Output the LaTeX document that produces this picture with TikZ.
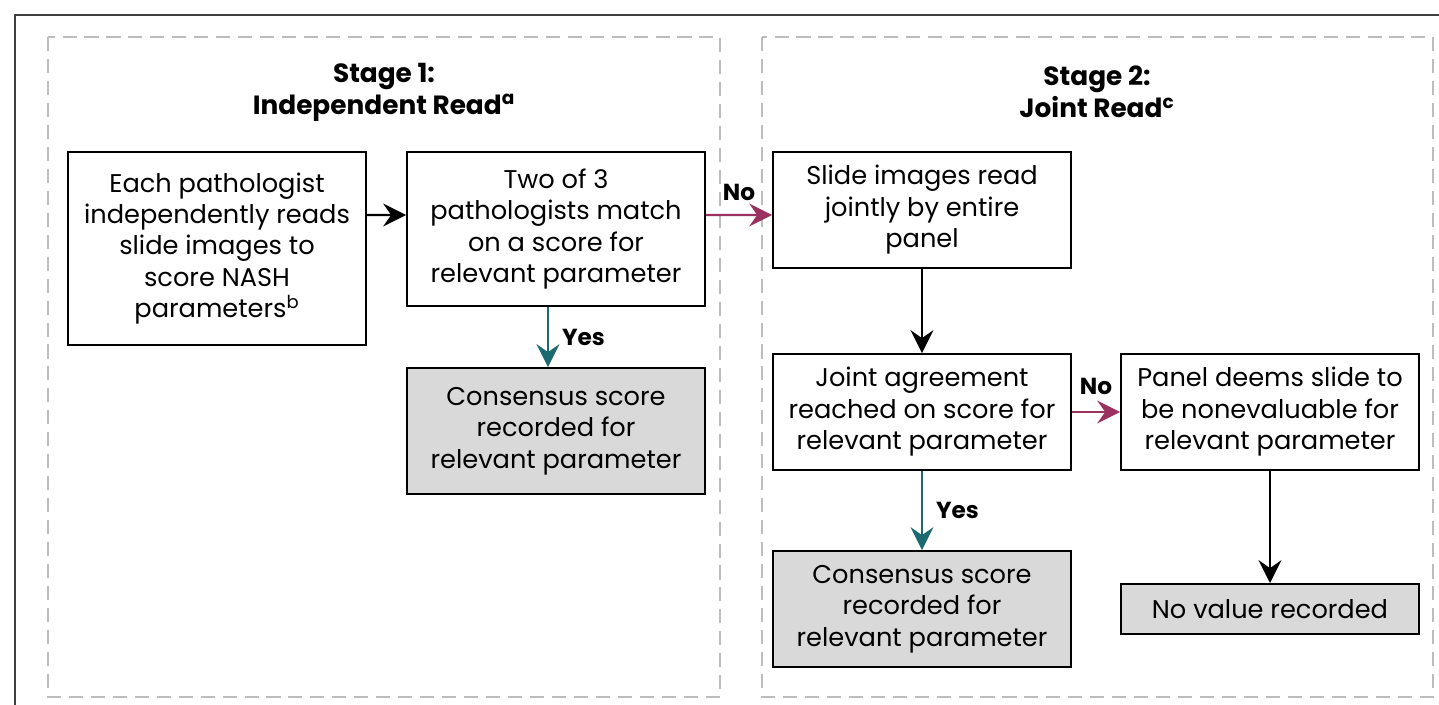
\documentclass[tikz,border=0pt]{standalone}
\usepackage{fontspec}
\setmainfont{Poppins}
\usetikzlibrary{arrows.meta,positioning,calc}
\definecolor{noline}{HTML}{9B3160}
\definecolor{yesline}{HTML}{1B6A72}
\definecolor{resultfill}{HTML}{D9D9D9}
\definecolor{stagegray}{HTML}{BDBDBD}

\tikzset{
  stepbox/.style={draw, line width=1.1pt, align=center, minimum width=5.96cm,
    inner sep=2pt, font=\fontsize{14.6}{17.9}\selectfont},
  resultbox/.style={stepbox, fill=resultfill},
  stagebox/.style={draw=stagegray, line width=1.1pt, dash pattern=on 8pt off 4.5pt},
  stagetitle/.style={align=center, font=\fontsize{15}{18.2}\selectfont\bfseries},
  flow/.style={-{Stealth[length=13pt, width=13pt, inset=4.5pt]}, line width=1.4pt},
  flowlabel/.style={font=\fontsize{13.2}{15}\selectfont\bfseries},
}

\begin{document}
\begin{tikzpicture}[x=0.02cm, y=-0.02cm]
  \useasboundingbox (0,0) rectangle (1439,705);

  % frame and stages
  \draw[line width=1pt, black!75] (15,730) -- (15,15) -- (1460,15);
  \draw[stagebox] (48,37) rectangle (720,697);
  \draw[stagebox] (762,37) rectangle (1433,697);

  \node[stagetitle] (title1) at (384,92) {Stage 1:\\ Independent Read\textsuperscript{a}};
  \node[stagetitle] (title2) at (1097,92) {Stage 2:\\ Joint Read\textsuperscript{c}};

  % Stage 1
  \node[stepbox, minimum height=3.86cm] (each) at (217,248.5)
    {Each pathologist\\ independently reads\\ slide images to\\ score NASH\\ parameters\textsuperscript{b}};
  \node[stepbox, minimum height=3.08cm] (match) at (556,229)
    {Two of 3\\ pathologists match\\ on a score for\\ relevant parameter};
  \node[resultbox, minimum height=2.52cm] (consensus1) at (556,431)
    {Consensus score\\ recorded for\\ relevant parameter};

  % Stage 2
  \node[stepbox, minimum height=2.32cm] (joint) at (922,210)
    {Slide images read\\ jointly by entire\\ panel};
  \node[stepbox, minimum height=2.32cm] (agree) at (922,412)
    {Joint agreement\\ reached on score for\\ relevant parameter};
  \node[stepbox, minimum height=2.32cm] (panel) at (1270,412)
    {Panel deems slide to\\ be nonevaluable for\\ relevant parameter};
  \node[resultbox, minimum height=2.32cm] (consensus2) at (922,609)
    {Consensus score\\ recorded for\\ relevant parameter};
  \node[resultbox, minimum height=1cm] (novalue) at (1270,609)
    {No value recorded};

  % Connectors
  \draw[flow] ([yshift=0.67cm]each.east) -- ([yshift=0.28cm]match.west);
  \draw[flow, noline] ([yshift=0.28cm]match.east) -- ([yshift=-0.1cm]joint.west)
    node[midway, above=4pt, flowlabel, text=black] {No};
  \draw[flow, yesline] ([xshift=-0.16cm]match.south) -- ([xshift=-0.16cm]consensus1.north)
    node[midway, right=4pt, flowlabel, text=black] {Yes};
  \draw[flow] (joint) -- (agree);
  \draw[flow, noline] (agree) -- (panel)
    node[midway, above=6pt, flowlabel, text=black] {No};
  \draw[flow, yesline] (agree) -- (consensus2)
    node[midway, right=4pt, flowlabel, text=black] {Yes};
  \draw[flow] (panel) -- (novalue);
\end{tikzpicture}
\end{document}
